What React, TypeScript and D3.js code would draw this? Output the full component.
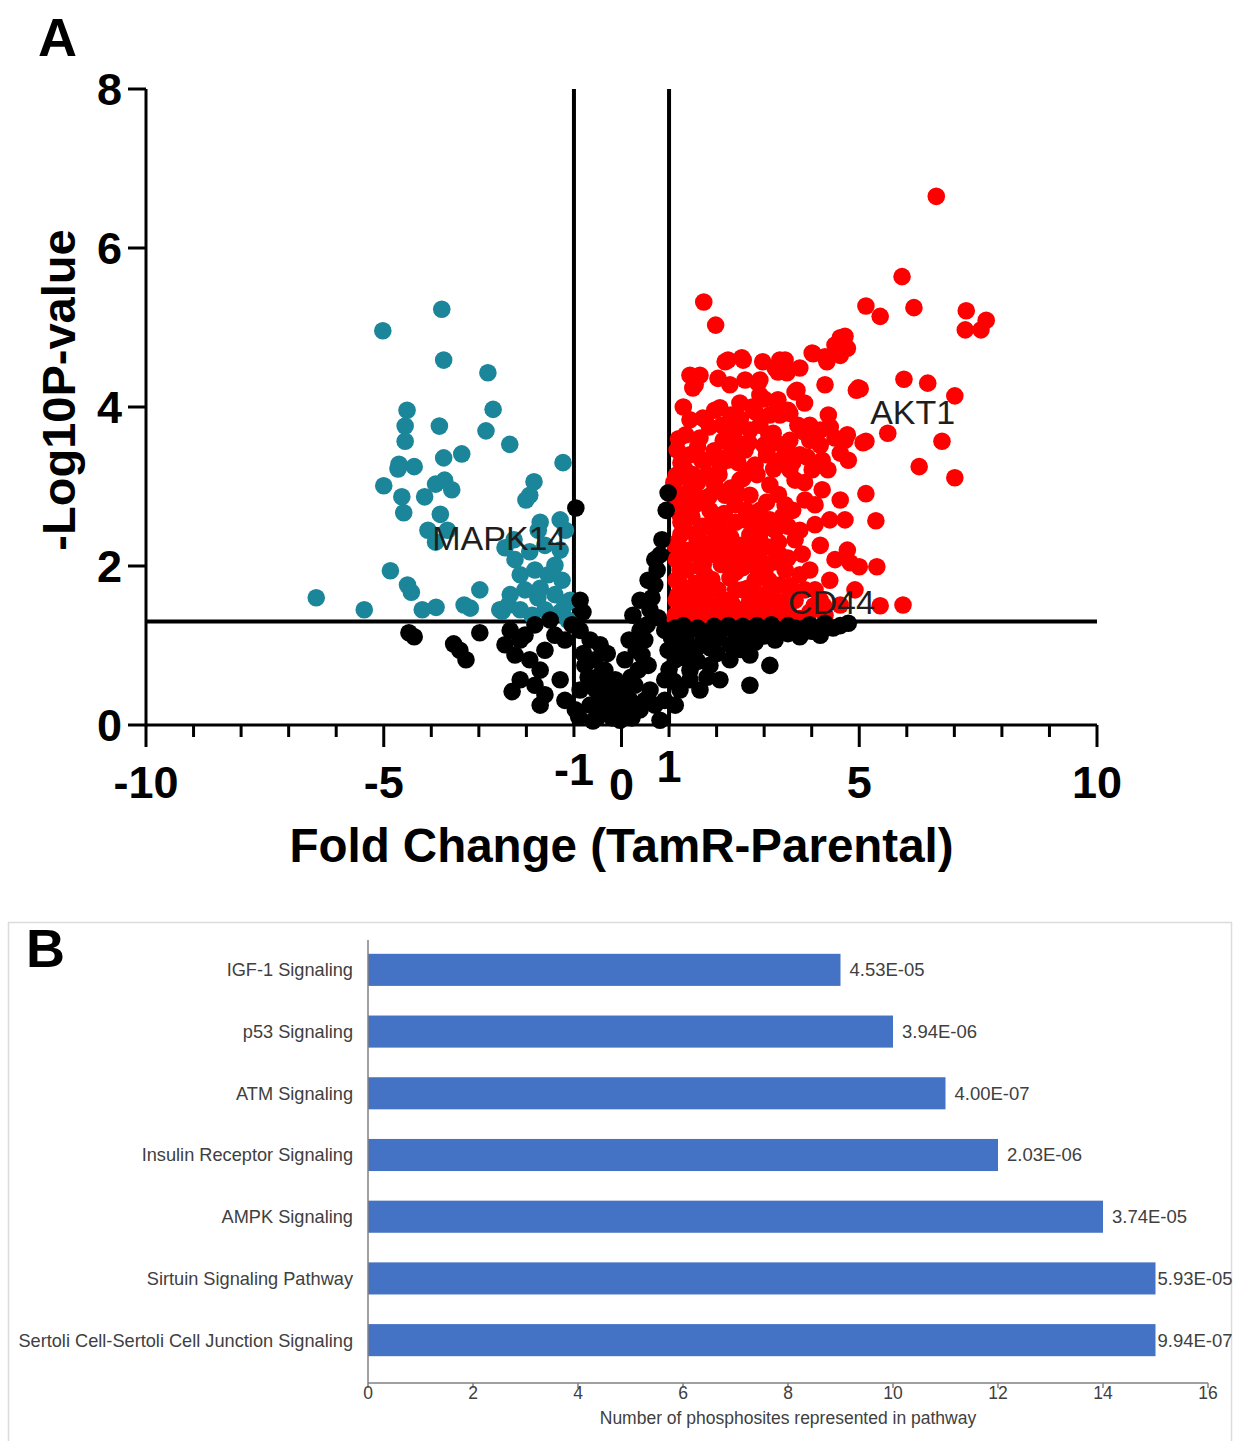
import React from 'react';
import * as d3 from 'd3';

// ---------- Panel A data: volcano plot (fold change, -log10 p) ----------
const upPoints: [number, number][] = [
  [6.62,6.65],[5.90,5.64],[5.14,5.27],[5.44,5.14],[6.15,5.25],[7.25,5.21],[7.67,5.09],[7.23,4.97],[7.56,4.97],
  [4.70,4.89],[4.49,4.78],[4.60,4.65],[4.28,4.63],[4.03,4.67],[1.73,5.32],[1.98,5.03],[5.94,4.35],[6.44,4.30],
  [7.01,4.14],[5.02,4.23],[4.94,4.21],[4.28,4.28],[5.60,3.67],[6.74,3.57],[6.26,3.25],[7.01,3.11],[5.14,2.91],
  [5.35,2.57],[4.75,2.20],[5.00,1.99],[5.37,1.99],[5.92,1.51],[5.44,1.50],[4.91,1.70],[4.38,1.82],[5.14,3.57],
  [4.70,3.58],[4.77,3.33],[4.34,3.21],[4.49,3.61],[4.18,3.71],[4.35,3.90],[3.96,3.58],[4.60,2.83],[4.38,2.58],
  [4.07,2.52],[4.18,2.26],[4.70,2.58],[3.96,1.95],[4.49,2.08],[4.81,2.04],[4.07,1.70],[4.60,1.51],[3.65,1.57],[3.75,1.89],
  [2.18,4.57],[2.56,4.59],[1.65,4.40],[1.50,4.24],[2.28,4.28],[2.87,4.30],[3.33,4.59],[3.23,4.49],[3.48,4.43],
  [3.69,4.21],[4.01,4.68],[4.32,4.57],[4.60,4.87],[4.75,4.74],[4.98,4.24],[1.71,3.86],[2.07,3.99],[2.49,4.05],
  [2.81,3.94],[3.27,4.03],[3.54,3.92],[3.82,3.69],[4.39,3.75],[4.75,3.65],[5.08,3.55],[1.65,3.61],[2.14,3.58],
  [3.19,3.67],[4.18,3.52],[4.60,3.42],[4.22,3.33],[1.69,3.33],[2.22,3.33],[3.06,3.42],[3.48,3.48],[3.90,3.37],
  [3.44,4.59],[3.75,4.49],[3.29,4.44],[2.91,4.34],[2.53,4.62],[2.24,4.59],[2.03,4.36],[1.44,4.40],[1.55,4.28],
  [2.91,4.15],[3.29,4.09],[3.65,4.19],[3.50,3.96],[3.12,3.90],[1.96,3.96],[1.44,3.84],[2.11,3.77],[2.70,3.71],
  [3.00,3.52],[3.54,3.58],[3.75,3.40],[3.33,3.33],[2.81,3.27],[2.28,3.40],[1.76,3.33],[1.34,3.21],[1.44,2.96],
  [1.96,3.02],[2.49,3.08],[3.12,3.02],[3.65,3.08],[3.86,2.83],[3.44,2.77],[2.91,2.70],[2.39,2.77],[1.86,2.70],
  [1.23,2.64],[1.15,3.14],[1.65,2.45],[2.18,2.45],[2.70,2.39],[3.23,2.45],[3.65,2.33],[3.33,2.14],[2.91,2.08],
  [2.49,2.14],[1.96,2.14],[1.44,2.20],[1.13,2.26],[1.23,1.95],[1.76,1.89],[2.28,1.85],[2.81,1.82],[3.33,1.76],
  [3.23,1.57],[2.70,1.57],[2.18,1.57],[1.65,1.60],[1.19,1.64],[1.44,1.42],[1.96,1.38],[2.49,1.38],[3.02,1.42],
  [3.54,1.38],[3.96,1.42],[1.13,1.38],[1.34,2.45],[1.55,2.77],[2.18,2.89],[2.70,2.89],[2.07,3.27],[2.60,3.46],
  [2.39,3.71],[2.91,3.77],[1.76,3.84],[1.44,3.40],[2.91,2.33],[1.76,2.20],[2.28,2.20],[1.65,1.99],[2.03,1.70],
  [2.55,1.70],[3.00,1.64],[1.44,1.72],[1.86,1.51],[2.39,1.45],[2.81,1.33],[3.23,1.33],[3.75,1.34],[1.76,1.34],
  [2.28,1.33],[4.28,1.38],[1.23,2.14],[1.96,2.45],[2.60,2.58],[3.12,2.58],[3.44,1.95],[3.02,1.95],[3.86,1.70],
  [4.18,1.57],[3.75,2.45],[4.07,2.77],[4.22,2.96],[4.01,3.21],[3.54,3.21],[3.96,3.77],[3.71,3.77],[2.60,4.34],
  [2.97,4.57],[3.33,3.90],[1.17,3.46],[1.15,2.83],[1.15,2.08],[1.15,1.82],[1.15,1.57],[1.07,2.96],
  [1.12,1.35],[1.30,1.50],[1.50,1.33],[1.62,1.48],[1.80,1.36],[2.00,1.50],[2.15,1.34],[2.33,1.52],[2.55,1.36],
  [2.66,1.50],[2.90,1.35],[3.10,1.50],[3.40,1.48],[3.60,1.62],[1.20,1.80],[1.38,1.95],[1.55,1.78],[1.72,2.02],
  [1.90,1.83],[2.10,2.02],[2.40,1.92],[2.62,2.05],[2.85,1.97],[3.15,1.70],[3.50,1.58],[1.18,2.30],[1.36,2.12],
  [1.58,2.36],[1.82,2.28],[2.05,2.30],[2.30,2.36],[2.52,2.26],[2.75,2.20],[3.05,2.24],[3.30,2.30],[1.25,2.55],
  [1.48,2.62],[1.70,2.50],[1.92,2.58],[2.16,2.66],[2.40,2.55],[2.62,2.70],[2.85,2.55],[3.05,2.80],[3.38,2.62],
  [1.15,2.75],[1.30,2.90],[1.60,3.05],[1.85,2.88],[2.05,3.15],[2.30,2.98],[2.55,3.10],[2.85,3.15],[3.20,3.22],
  [1.25,3.30],[1.50,3.15],[1.95,3.45],[2.20,3.60],[2.45,3.30],[2.68,3.55],[3.05,3.40],[3.45,3.45],[1.35,3.65],
  [1.85,3.75],[2.30,3.90],[2.75,4.00],[3.10,3.65],
  [1.22,1.33],[1.40,1.33],[1.60,1.40],[1.90,1.45],[2.10,1.40],[2.45,1.33],[2.62,1.42],[2.95,1.46],[3.15,1.38],
  [3.35,1.33],[3.50,1.45],[3.85,1.33],[4.05,1.50],[4.25,1.50],[1.30,1.65],[1.55,1.60],[1.85,1.70],[2.40,1.70],
  [2.65,1.72],[2.90,1.62],[3.10,1.82],[3.55,1.75],[1.30,2.02],[1.60,2.15],[2.25,2.05],[2.55,1.98],[3.20,2.05],
  [3.50,2.10],[3.80,2.15],[1.25,2.40],[2.00,2.60],[2.95,2.45],[3.50,2.50],[3.60,2.70],[1.35,2.80],[1.70,2.85],
  [2.45,2.90],[3.30,2.90],[3.85,3.05],[1.10,3.05],[1.40,3.10],[1.80,3.15],[2.70,3.20],[3.60,3.30],[1.20,3.60],
  [1.60,3.50],[2.45,3.55],[3.25,3.55],[1.30,4.00],[2.50,3.85],[3.00,4.10],[3.85,4.05],
];

const downPoints: [number, number][] = [
  [-6.42,1.60],[-5.41,1.45],[-5.02,4.96],[-3.78,5.23],[-3.74,4.59],[-2.81,4.43],[-2.70,3.97],[-4.51,3.96],
  [-4.55,3.76],[-4.55,3.57],[-3.83,3.76],[-2.85,3.70],[-2.35,3.53],[-3.74,3.36],[-3.36,3.41],[-4.68,3.28],
  [-4.36,3.25],[-4.70,3.22],[-5.00,3.01],[-4.62,2.87],[-4.14,2.87],[-3.91,3.03],[-3.72,3.08],[-3.57,2.96],
  [-4.58,2.67],[-3.81,2.65],[-4.07,2.45],[-3.66,2.45],[-1.23,3.30],[-1.84,3.06],[-1.93,2.89],[-2.01,2.83],
  [-1.71,2.55],[-2.26,2.33],[-3.91,2.30],[-4.86,1.94],[-4.50,1.76],[-4.42,1.67],[-2.98,1.70],[-3.90,1.48],
  [-4.19,1.45],[-3.31,1.51],[-3.18,1.47],[-2.51,1.43],[-2.38,1.51],[-1.76,1.60],[-2.45,2.23],[-2.24,2.08],
  [-1.93,2.18],[-1.61,2.26],[-1.29,2.20],[-2.13,1.89],[-1.82,1.95],[-1.54,1.89],[-1.25,1.82],[-2.03,1.70],
  [-1.71,1.72],[-1.40,1.64],[-1.08,1.57],[-2.34,1.64],[-2.56,1.45],[-2.13,1.45],[-1.61,1.45],[-1.29,1.42],
  [-1.13,1.32],[-1.50,1.35],[-1.88,1.38],[-1.19,1.51],[-1.40,2.01],[-1.18,2.45],[-1.29,2.58],[-1.75,2.45],
];

const nsPoints: [number, number][] = [
  [-0.96,2.73],[0.98,2.92],[0.94,2.70],[0.85,2.33],[0.81,2.14],[0.75,1.95],[0.70,1.76],[0.64,1.60],[0.60,1.45],
  [0.54,1.26],[0.49,1.07],[0.43,0.88],[0.35,0.69],[0.28,0.50],[0.18,0.31],[0.07,0.16],[-0.03,0.06],[0.24,1.38],
  [0.39,1.57],[0.56,1.82],[0.70,2.08],[0.16,1.07],[0.31,0.94],[-0.24,0.44],[-0.45,0.31],[-0.35,0.16],[-0.66,0.25],
  [-0.20,0.09],[0.22,0.09],[0.49,0.31],[0.60,0.44],[0.70,0.25],[-0.87,0.44],[-0.97,0.19],[-0.77,0.75],[-0.56,0.82],
  [-0.35,0.69],[-0.45,1.01],[-0.66,1.07],[-0.87,1.19],[-1.04,1.26],[-1.19,1.07],[-1.40,1.13],[-1.61,0.94],
  [-1.71,0.69],[-1.93,0.82],[-2.13,1.07],[-2.34,1.19],[-2.45,1.01],[-2.24,0.88],[-1.82,0.50],[-1.61,0.38],
  [-1.71,0.25],[-1.29,0.57],[-1.19,0.31],[-2.30,0.42],[-2.13,0.57],[-2.98,1.16],[-3.40,0.94],[-3.27,0.82],
  [-4.36,1.11],[-4.47,1.16],[-3.53,1.02],[-1.50,1.32],[-1.82,1.26],[-2.03,1.13],[-0.81,1.42],[-0.87,1.57],
  [-0.45,0.63],[-0.13,0.31],[0.07,0.31],[0.39,0.19],[1.13,1.22],[1.44,1.19],[1.76,1.17],[2.07,1.17],[2.39,1.16],
  [2.70,1.17],[3.02,1.17],[3.33,1.19],[3.65,1.22],[3.96,1.26],[4.28,1.28],[4.77,1.28],[1.23,1.01],[1.55,0.94],
  [1.86,0.97],[2.28,1.01],[2.81,1.04],[3.23,1.07],[3.75,1.11],[4.18,1.13],[1.13,0.82],[1.44,0.69],[1.86,0.75],
  [2.28,0.82],[2.70,0.88],[1.65,0.44],[1.23,0.44],[1.44,0.57],[0.91,0.31],[0.91,0.57],[1.13,0.25],[2.07,0.57],
  [2.70,0.50],[3.12,0.75],[0.81,0.06],[0.98,0.94],[0.91,1.19],[0.77,1.35],[0.39,1.19],[0.07,0.82],[-0.13,0.57],
  [0.56,0.75],
  [-0.70,0.60],[-0.55,0.45],[-0.30,0.50],[-0.15,0.20],[-0.50,0.10],[-0.80,0.90],[-0.30,0.90],[0.00,0.45],
  [0.20,0.60],[-0.90,0.10],[-0.60,0.05],[1.30,1.25],[1.60,1.22],[1.95,1.24],[2.25,1.25],[2.55,1.24],[2.85,1.25],
  [3.15,1.26],[3.50,1.25],[3.85,1.22],[4.45,1.22],[4.60,1.25],[1.35,1.08],[1.70,1.05],[2.00,1.08],[2.55,1.10],
  [3.00,1.12],[3.50,1.15],[4.00,1.18],[1.05,1.10],[1.00,0.70],[1.30,0.85],[1.60,0.80],[2.00,0.90],[2.50,0.95],
  [1.10,0.55],[1.80,0.60],
];

const geneLabels = [
  { name: 'MAPK14', fc: -3.98, p: 2.2 },
  { name: 'AKT1', fc: 5.23, p: 3.79 },
  { name: 'CD44', fc: 3.5, p: 1.4 },
];

const xTickLabels = [-10, -5, -1, 0, 1, 5, 10];
const xMinorTicks = d3.range(-10, 11, 1);
const yTickLabels = [0, 2, 4, 6, 8];
const fcCutoff = 1;
const pCutoff = -Math.log10(0.05);

// ---------- Panel B data: pathway bar chart ----------
const pathways = [
  'IGF-1 Signaling',
  'p53 Signaling',
  'ATM Signaling',
  'Insulin Receptor Signaling',
  'AMPK Signaling',
  'Sirtuin Signaling Pathway',
  'Sertoli Cell-Sertoli Cell Junction Signaling',
];
const phosphositeCounts = [9, 10, 11, 12, 14, 15, 15];
const pValueLabels = ['4.53E-05', '3.94E-06', '4.00E-07', '2.03E-06', '3.74E-05', '5.93E-05', '9.94E-07'];
const barTicks = [0, 2, 4, 6, 8, 10, 12, 14, 16];

const BOLD = "'Liberation Sans', Arial, Helvetica, sans-serif";

export default function App() {
  const W = 1234, H = 1441;
  const x = d3.scaleLinear().domain([-10, 10]).range([146, 1097]);
  const y = d3.scaleLinear().domain([0, 8]).range([725, 89]);
  const r = 8.8;

  const labelRaise: Record<number, number> = { [-1]: 13, 0: -2, 1: 16 };

  // Panel B scales
  const bx = d3.scaleLinear().domain([0, 16]).range([368, 1208]);
  const by = d3.scaleBand<string>().domain(pathways).range([939, 1371]).paddingInner(0.48).paddingOuter(0.24);
  const bAxisY = 1383;

  return (
    <svg width={W} height={H} viewBox={`0 0 ${W} ${H}`}
      style={{ position: 'absolute', left: 0, top: 0, background: '#fff' }}
      fontFamily={BOLD}>
      <rect x={0} y={0} width={W} height={H} fill="#fff" />

      {/* ================= Panel A ================= */}
      <text x={38} y={56} fontSize={54} fontWeight="bold">A</text>

      {/* reference lines */}
      <line x1={x(-fcCutoff)} x2={x(-fcCutoff)} y1={y(8)} y2={y(0)} stroke="#000" strokeWidth={4} />
      <line x1={x(fcCutoff)} x2={x(fcCutoff)} y1={y(8)} y2={y(0)} stroke="#000" strokeWidth={4} />
      <line x1={x(-10)} x2={x(10)} y1={y(pCutoff)} y2={y(pCutoff)} stroke="#000" strokeWidth={4} />

      {/* axes */}
      <line x1={x(-10)} x2={x(10)} y1={y(0)} y2={y(0)} stroke="#000" strokeWidth={3} />
      <line x1={x(-10)} x2={x(-10)} y1={y(0) + 1.5} y2={y(8)} stroke="#000" strokeWidth={3} />
      {xMinorTicks.map(v => {
        const major = v % 5 === 0;
        return <line key={'xt' + v} x1={x(v)} x2={x(v)} y1={y(0)} y2={y(0) + (major ? 22 : 12)} stroke="#000" strokeWidth={3} />;
      })}
      {yTickLabels.map(v => (
        <g key={'yt' + v}>
          <line x1={x(-10) - 18} x2={x(-10)} y1={y(v)} y2={y(v)} stroke="#000" strokeWidth={3} />
          <text x={x(-10) - 24} y={y(v)} dy="0.36em" textAnchor="end" fontSize={45} fontWeight="bold">{v}</text>
        </g>
      ))}
      {xTickLabels.map(v => (
        <text key={'xl' + v} x={x(v)} y={y(0) + 73 - (labelRaise[v] || 0)} textAnchor="middle" fontSize={45} fontWeight="bold">{v}</text>
      ))}

      {/* points */}
      {upPoints.map((d, i) => (
        <circle key={'u' + i} cx={x(d[0])} cy={y(d[1])} r={r} fill="#ff0000" />
      ))}
      {downPoints.map((d, i) => (
        <circle key={'d' + i} cx={x(d[0])} cy={y(d[1])} r={r} fill="#1b8599" />
      ))}
      {nsPoints.map((d, i) => (
        <circle key={'n' + i} cx={x(d[0])} cy={y(d[1])} r={r} fill="#000" />
      ))}

      {geneLabels.map(g => (
        <text key={g.name} x={x(g.fc)} y={y(g.p)} fontSize={34} fill="#1e1e1e">{g.name}</text>
      ))}

      {/* axis titles */}
      <text x={621.5} y={862} textAnchor="middle" fontSize={47.5} fontWeight="bold">Fold Change (TamR-Parental)</text>
      <text transform="translate(75,390) rotate(-90)" textAnchor="middle" fontSize={47} fontWeight="bold">-Log10P-value</text>

      {/* ================= Panel B ================= */}
      <rect x={8.5} y={922.5} width={1223} height={530} fill="#fff" stroke="#dcdcdc" strokeWidth={1.5} />
      <text x={26} y={967} fontSize={54} fontWeight="bold">B</text>

      {pathways.map((p, i) => {
        const end = bx(phosphositeCounts[i]);
        const fits = end + 9 + 80 <= 1232;
        return (
          <g key={p}>
            <rect x={bx(0)} y={by(p)!} width={end - bx(0)} height={by.bandwidth()} fill="#4472c4" />
            <text x={353} y={by(p)! + by.bandwidth() / 2} dy="0.35em" textAnchor="end" fontSize={18.2} fill="#404040">{p}</text>
            <text x={fits ? end + 9 : end + 2} y={by(p)! + by.bandwidth() / 2} dy="0.35em" fontSize={18.5} fill="#404040">{pValueLabels[i]}</text>
          </g>
        );
      })}

      <line x1={bx(0)} x2={bx(0)} y1={940} y2={bAxisY} stroke="#808080" strokeWidth={1.5} />
      <line x1={bx(0)} x2={bx(16)} y1={bAxisY} y2={bAxisY} stroke="#808080" strokeWidth={1.5} />
      {barTicks.map(t => (
        <g key={'bt' + t}>
          <line x1={bx(t)} x2={bx(t)} y1={bAxisY} y2={bAxisY + 5} stroke="#808080" strokeWidth={1.5} />
          <text x={bx(t)} y={1399} textAnchor="middle" fontSize={17.5} fill="#404040">{t}</text>
        </g>
      ))}
      <text x={788} y={1424} textAnchor="middle" fontSize={17.5} fill="#404040">Number of phosphosites represented in pathway</text>
    </svg>
  );
}
